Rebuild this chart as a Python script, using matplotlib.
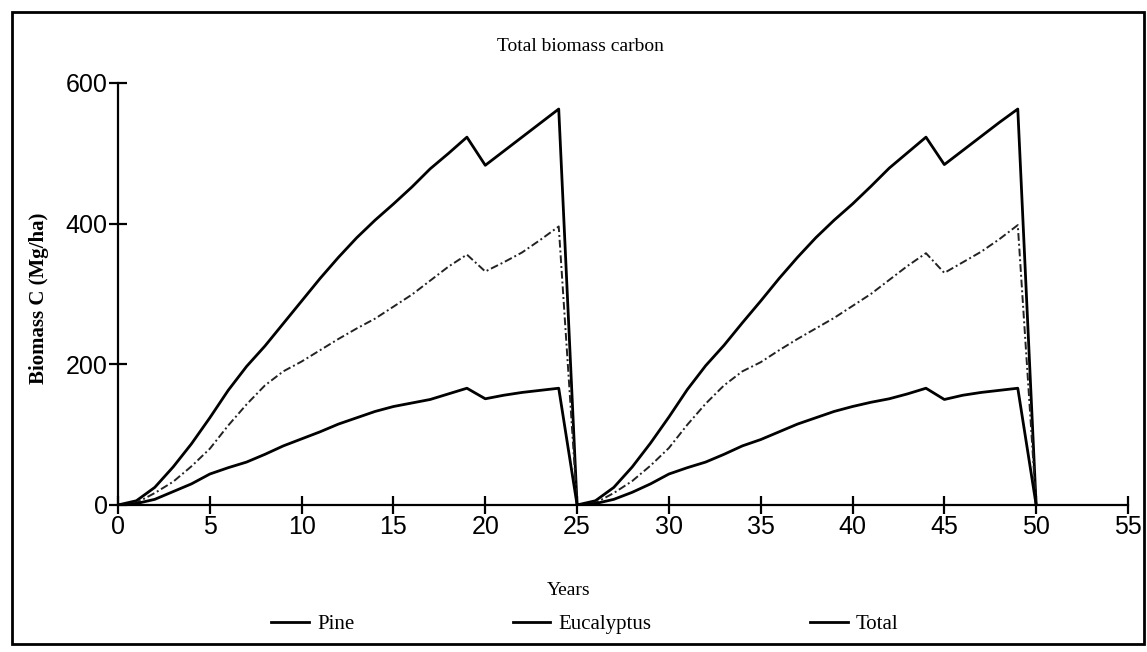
"""Total biomass carbon over two 25-year rotations (pine / eucalyptus)."""
import matplotlib
matplotlib.use("Agg")
import matplotlib.pyplot as plt
from matplotlib.lines import Line2D
from matplotlib.patches import Rectangle

# values, one per year (0..50)
years = list(range(0, 51))

pine = [0, 2, 8, 19, 30, 44, 53, 61, 72, 84, 94, 104, 115, 124, 133, 140,
        145, 150, 158, 166, 151, 156, 160, 163, 166,
        0, 2, 8, 18, 30, 44, 53, 61, 72, 84, 93, 104, 115, 124, 133, 140,
        146, 151, 158, 166, 150, 156, 160, 163, 166, 0]

eucalyptus = [0, 3, 17, 33, 55, 80, 113, 143, 170, 190, 204, 220, 236, 251,
              265, 282, 299, 319, 339, 356, 332, 345, 359, 377, 396,
              0, 3, 17, 34, 56, 81, 114, 144, 170, 190, 203, 220, 236, 251,
              266, 283, 300, 320, 340, 358, 330, 345, 360, 378, 398, 0]

total = [0, 6, 25, 54, 87, 124, 163, 197, 226, 258, 290, 322, 352, 380, 405,
         428, 452, 478, 500, 523, 483, 503, 523, 543, 563,
         0, 6, 25, 54, 88, 125, 164, 198, 227, 259, 290, 322, 352, 380, 405,
         428, 453, 479, 501, 523, 484, 504, 524, 544, 563, 0]

series = ["Pine", "Eucalyptus", "Total"]
xticks = list(range(0, 56, 5))
yticks = [0, 200, 400, 600]

SERIF = ["Liberation Serif", "DejaVu Serif"]
NARROW = ["Liberation Sans Narrow", "Liberation Sans", "DejaVu Sans"]

fig = plt.figure(figsize=(11.47, 6.52), dpi=100)
ax = fig.add_axes([0.1029, 0.2255, 0.8805, 0.6472])

ax.plot(years, total, color="black", lw=2.0)
ax.plot(years, eucalyptus, color="#222222", lw=1.4,
        ls=(0, (4, 1.5, 1, 1.5)))
ax.plot(years, pine, color="black", lw=2.0)

ax.set_xlim(0, 55)
ax.set_ylim(0, 600)
ax.set_xticks(xticks)
ax.set_yticks(yticks)
for side in ["top", "right"]:
    ax.spines[side].set_visible(False)
for side in ["left", "bottom"]:
    ax.spines[side].set_linewidth(1.6)
ax.tick_params(direction="inout", length=13, width=1.6, pad=1,
               labelsize=18)
for lab in ax.get_xticklabels() + ax.get_yticklabels():
    lab.set_family(NARROW)

ax.set_ylabel("Biomass C (Mg/ha)", family=SERIF, fontsize=15,
              fontweight="bold", labelpad=14)
ax.yaxis.set_label_coords(-0.068, 0.49)
fig.text(0.506, 0.928, "Total biomass carbon", family=SERIF,
         fontsize=14, ha="center", va="center")
fig.text(0.496, 0.094, "Years", family=SERIF, fontsize=14,
         ha="center", va="center")

handles = [Line2D([], [], color="black", lw=2.0) for _ in series]
fig.legend(handles, series, loc="center", bbox_to_anchor=(0.51, 0.042),
           ncol=3, frameon=False, handlelength=1.8, handletextpad=0.4,
           columnspacing=7.6, prop={"family": SERIF, "size": 15})

# scanned-page frame around the whole figure
fig.patches.append(Rectangle((0.0105, 0.012), 0.987, 0.9695,
                             transform=fig.transFigure, fill=False,
                             edgecolor="black", lw=2.0))

fig.savefig("out.png", dpi=100)
